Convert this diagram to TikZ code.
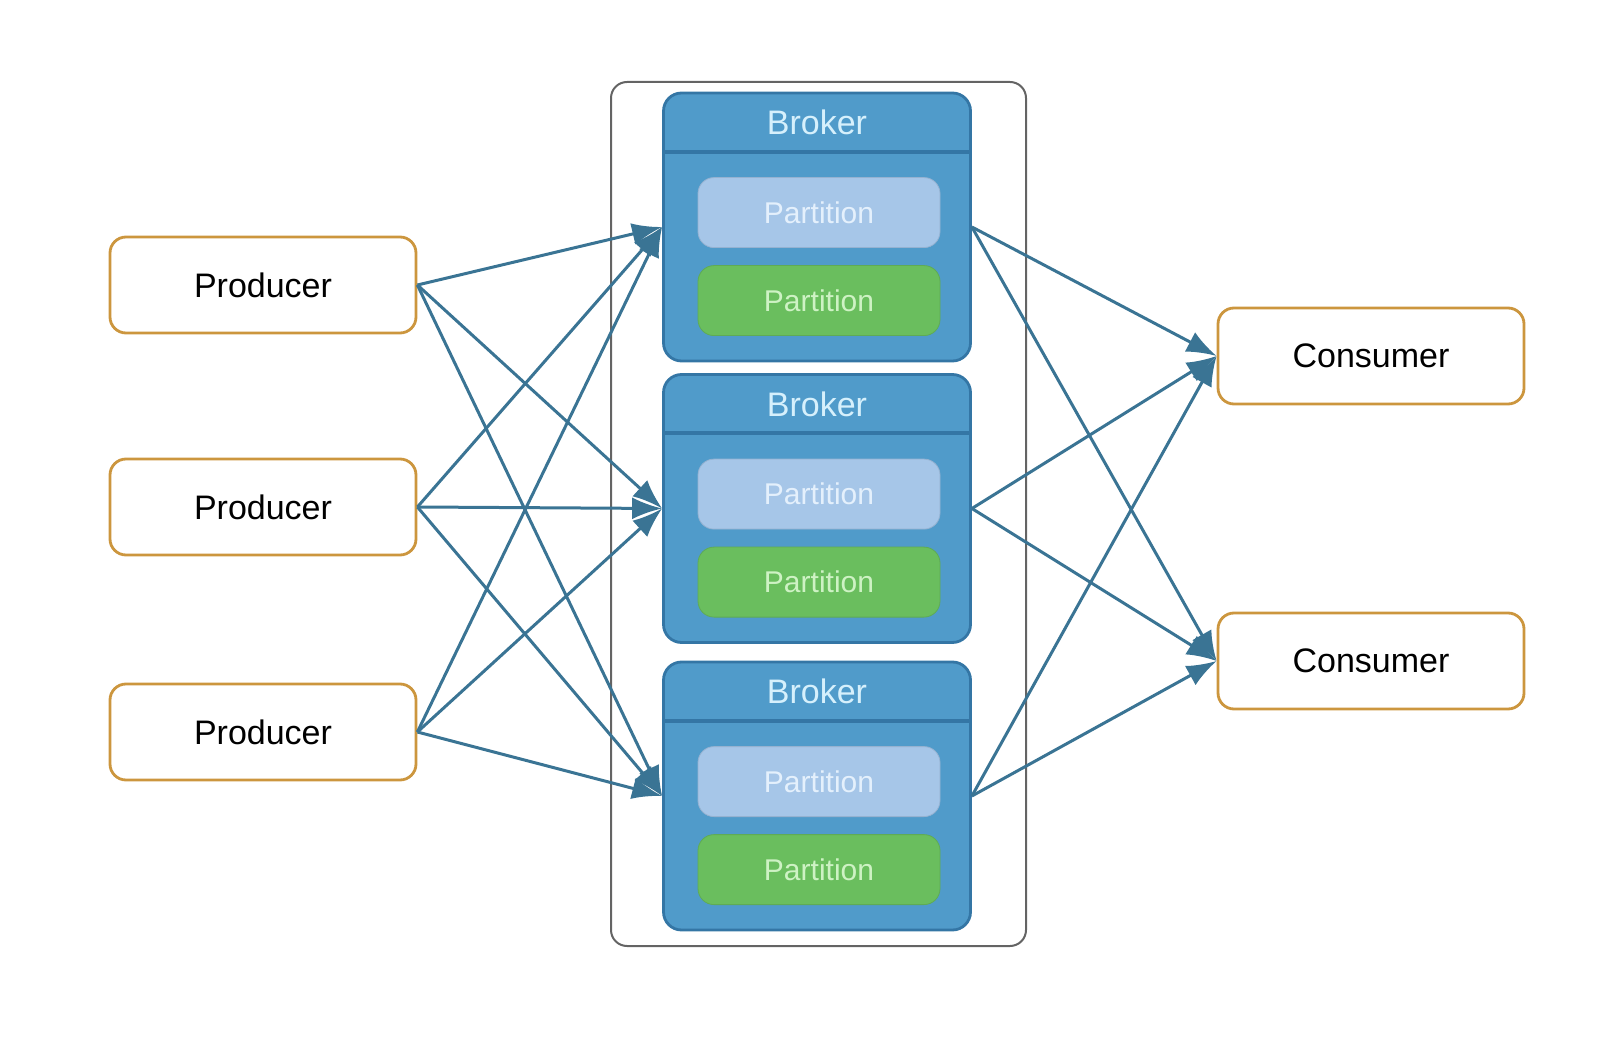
\documentclass[tikz,border=0pt]{standalone}
\usepackage{fontspec}
\setmainfont{Liberation Sans}
\usepackage{tikz}
\usetikzlibrary{arrows.meta,positioning,calc}
\definecolor{clientorange}{RGB}{204, 150, 62}
\definecolor{brokerblue}{RGB}{80, 155, 202}
\definecolor{brokeredge}{RGB}{52, 118, 165}
\definecolor{brokertext}{RGB}{214, 240, 252}
\definecolor{lightpart}{RGB}{166, 198, 232}
\definecolor{lightparttext}{RGB}{228, 240, 252}
\definecolor{greenpart}{RGB}{106, 190, 94}
\definecolor{greenparttext}{RGB}{206, 242, 196}
\definecolor{flowblue}{RGB}{58, 116, 148}
\definecolor{clustergray}{RGB}{100, 100, 100}

\begin{document}
\begin{tikzpicture}[x=0.5pt, y=-0.5pt, every node/.style={font=\fontsize{17}{20}\selectfont},
    client/.style={draw=clientorange, line width=1.4pt, rounded corners=8pt, fill=white, minimum width=153pt, minimum height=48pt, inner sep=0pt},
    broker/.style={draw=brokeredge, fill=brokerblue, line width=1.4pt, rounded corners=9pt, minimum width=153.5pt, minimum height=134pt, inner sep=0pt},
    partbox/.style={rounded corners=8pt, minimum width=121pt, minimum height=35pt, inner sep=0pt, font=\fontsize{15}{18}\selectfont},
    flow/.style={draw=flowblue, line width=1.5pt, -{Latex[length=15pt, width=11pt]}}]
    \useasboundingbox (0,0) rectangle (1600,1042);

    \node[draw=clustergray, line width=1pt, rounded corners=8pt, minimum width=207.5pt, minimum height=432pt] (cluster) at (818.5, 514) {};

    \node[client] (prod1) at (263, 285) {Producer};
    \node[client] (prod2) at (263, 507) {Producer};
    \node[client] (prod3) at (263, 732) {Producer};

    \node[client] (cons1) at (1371, 356) {Consumer};
    \node[client] (cons2) at (1371, 661) {Consumer};

    \node[broker] (brk1) at (817, 227) {};
    \node[text=brokertext] (brk1title) at ($(brk1.north)+(0,31)$) {Broker};
    \draw[brokeredge, line width=2pt] ($(brk1.north west)+(0,60)$) -- ($(brk1.north east)+(0,60)$);
    \node[partbox, fill=lightpart, draw=lightpart!90!black, text=lightparttext] (brk1p1) at ($(brk1.north)+(2,121)$) {Partition};
    \node[partbox, fill=greenpart, draw=greenpart!90!black, text=greenparttext] (brk1p2) at ($(brk1.north)+(2,209)$) {Partition};

    \node[broker] (brk2) at (817, 508.5) {};
    \node[text=brokertext] (brk2title) at ($(brk2.north)+(0,31)$) {Broker};
    \draw[brokeredge, line width=2pt] ($(brk2.north west)+(0,60)$) -- ($(brk2.north east)+(0,60)$);
    \node[partbox, fill=lightpart, draw=lightpart!90!black, text=lightparttext] (brk2p1) at ($(brk2.north)+(2,121)$) {Partition};
    \node[partbox, fill=greenpart, draw=greenpart!90!black, text=greenparttext] (brk2p2) at ($(brk2.north)+(2,209)$) {Partition};

    \node[broker] (brk3) at (817, 796) {};
    \node[text=brokertext] (brk3title) at ($(brk3.north)+(0,31)$) {Broker};
    \draw[brokeredge, line width=2pt] ($(brk3.north west)+(0,60)$) -- ($(brk3.north east)+(0,60)$);
    \node[partbox, fill=lightpart, draw=lightpart!90!black, text=lightparttext] (brk3p1) at ($(brk3.north)+(2,121)$) {Partition};
    \node[partbox, fill=greenpart, draw=greenpart!90!black, text=greenparttext] (brk3p2) at ($(brk3.north)+(2,209)$) {Partition};

    \draw[flow] (prod1.east) -- (brk1.west);
    \draw[flow] (prod1.east) -- (brk2.west);
    \draw[flow] (prod1.east) -- (brk3.west);
    \draw[flow] (prod2.east) -- (brk1.west);
    \draw[flow] (prod2.east) -- (brk2.west);
    \draw[flow] (prod2.east) -- (brk3.west);
    \draw[flow] (prod3.east) -- (brk1.west);
    \draw[flow] (prod3.east) -- (brk2.west);
    \draw[flow] (prod3.east) -- (brk3.west);

    \draw[flow] (brk1.east) -- (cons1.west);
    \draw[flow] (brk1.east) -- (cons2.west);
    \draw[flow] (brk2.east) -- (cons1.west);
    \draw[flow] (brk2.east) -- (cons2.west);
    \draw[flow] (brk3.east) -- (cons1.west);
    \draw[flow] (brk3.east) -- (cons2.west);
\end{tikzpicture}
\end{document}
